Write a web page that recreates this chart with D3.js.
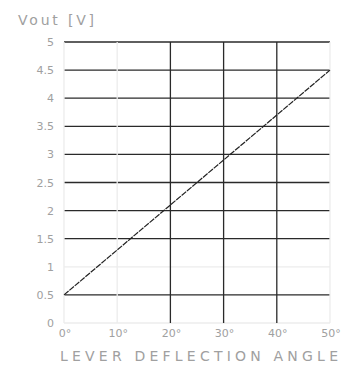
<!DOCTYPE html>
<html>
<head>
<meta charset="utf-8">
<script src="https://cdn.jsdelivr.net/npm/d3@7"></script>
<style>
  html, body { margin: 0; padding: 0; background: #fff; }
  svg { display: block; }
  text { font-family: "DejaVu Sans", sans-serif; fill: #a0a0a0; }
</style>
</head>
<body>
<svg id="chart" width="343" height="367"></svg>
<script>
// Output voltage vs. lever deflection angle
const angles = [0, 50];
const vout = [0.5, 4.5];
const xTicks = [0, 10, 20, 30, 40, 50];
const yTicks = [0, 0.5, 1, 1.5, 2, 2.5, 3, 3.5, 4, 4.5, 5];
const yTickLabels = ["0", "0.5", "1", "1.5", "2", "2.5", "3", "3.5", "4", "4.5", "5"];
const lightX = [0, 10, 50];
const lightY = [0, 1];

const svg = d3.select("#chart");
const x = d3.scaleLinear().domain([0, 50]).range([64, 330]);
const y = d3.scaleLinear().domain([0, 5]).range([323, 42]);

// grid
svg.append("g").selectAll("line").data(yTicks).join("line")
  .attr("x1", x(0)).attr("x2", x(50))
  .attr("y1", d => y(d)).attr("y2", d => y(d))
  .attr("stroke", d => lightY.includes(d) ? "#ececec" : "#2a2a2a")
  .attr("stroke-width", 1.3);

svg.append("g").selectAll("line").data(xTicks).join("line")
  .attr("x1", d => x(d)).attr("x2", d => x(d))
  .attr("y1", y(0)).attr("y2", y(5))
  .attr("stroke", d => lightX.includes(d) ? "#ececec" : "#2a2a2a")
  .attr("stroke-width", 1.3);

// characteristic
const line = d3.line().x(d => x(d[0])).y(d => y(d[1]));
svg.append("path")
  .datum(angles.map((a, i) => [a, vout[i]]))
  .attr("d", line)
  .attr("fill", "none")
  .attr("stroke", "#222")
  .attr("stroke-width", 1.2)
  .attr("stroke-dasharray", "6,1");

// y labels
svg.append("g").selectAll("text").data(yTicks).join("text")
  .attr("x", 54).attr("y", d => y(d) + 4)
  .attr("text-anchor", "end")
  .attr("font-size", 11)
  .text((d, i) => yTickLabels[i]);

// x labels
svg.append("g").selectAll("text").data(xTicks).join("text")
  .attr("x", d => x(d) + 1).attr("y", 337)
  .attr("text-anchor", "middle")
  .attr("font-size", 11)
  .text(d => d + "°");

// axis titles
svg.append("text")
  .attr("x", 18).attr("y", 25)
  .attr("font-size", 14)
  .attr("textLength", 76)
  .text("Vout [V]");

svg.append("text")
  .attr("x", 60).attr("y", 361)
  .attr("font-size", 14)
  .attr("textLength", 278)
  .attr("lengthAdjust", "spacing")
  .text("LEVER DEFLECTION ANGLE");
</script>
</body>
</html>
